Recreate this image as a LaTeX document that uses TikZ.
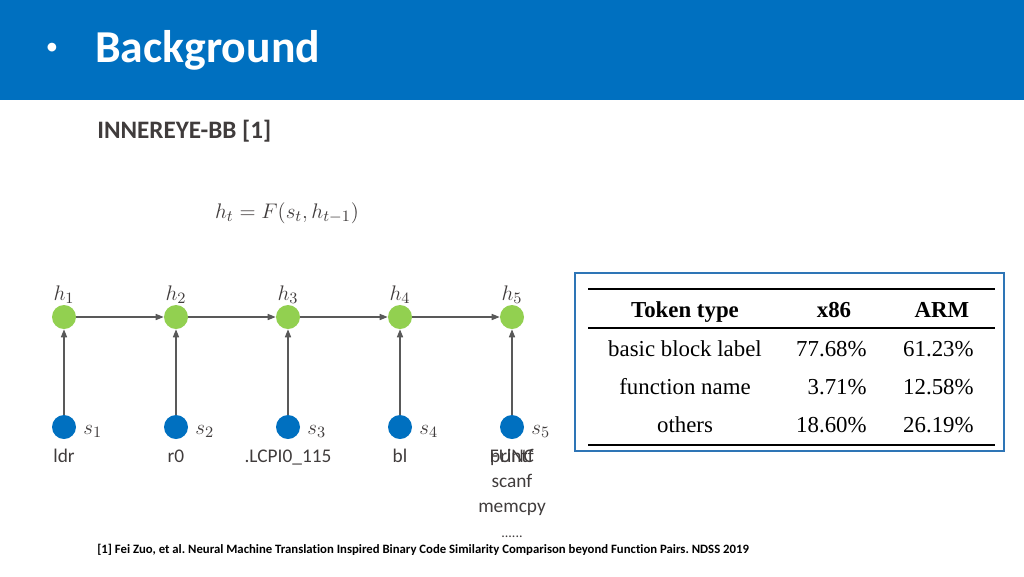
\documentclass[tikz,border=0pt]{standalone}
\usepackage{fontspec}
\setmainfont{Carlito}[Ligatures=NoCommon]
\newfontfamily\tabfont{Liberation Serif}
\frenchspacing
\definecolor{bandblue}{RGB}{0,112,192}
\definecolor{boxblue}{RGB}{46,117,182}
\definecolor{hgreen}{RGB}{146,208,80}
\definecolor{sblue}{RGB}{0,112,192}
\definecolor{darktext}{RGB}{64,60,60}
\definecolor{linegray}{RGB}{89,89,89}
\usetikzlibrary{arrows.meta}
\tikzset{
  hnode/.style={circle, fill=hgreen, minimum size=4.8mm, inner sep=0pt},
  snode/.style={circle, fill=sblue, minimum size=4.8mm, inner sep=0pt},
  mlabel/.style={font=\fontsize{13}{15}\selectfont, text=darktext, anchor=base},
  tok/.style={font=\fontsize{11}{13}\selectfont, text=darktext, anchor=base},
  flow/.style={draw=linegray, line width=0.6pt, -{Triangle[length=4.5pt,width=3.5pt]}},
  cell/.style={font=\tabfont\fontsize{13}{15}\selectfont, anchor=base},
  rule/.style={draw=black, line width=#1},
}

\begin{document}
\begin{tikzpicture}[x=0.2mm, y=-0.2mm]
\useasboundingbox (0,0) rectangle (1024,576);

% --- Header band ---
\fill[bandblue] (0,0) rectangle (1024,100);
\node[text=white, font=\fontsize{14}{16}\selectfont, anchor=base] (bullet) at (52,54) {•};
\node[text=white, font=\bfseries\fontsize{26}{30}\selectfont, anchor=base west, inner sep=0pt] (title) at (95,62) {Background};
\node[text=darktext, font=\bfseries\fontsize{14.3}{17}\selectfont, anchor=base west, inner sep=0pt] (subtitle) at (97,138) {INNEREYE-BB [1]};

% --- Recurrence ---
\node[font=\fontsize{12.5}{15}\selectfont, text=darktext, anchor=base] (recur) at (287,218) {$h_t = F(s_t, h_{t-1})$};

% Hidden states
\node[hnode] (h1) at (64,317) {};
\node[hnode] (h2) at (176,317) {};
\node[hnode] (h3) at (288,317) {};
\node[hnode] (h4) at (400,317) {};
\node[hnode] (h5) at (512,317) {};
\node[mlabel] (lh1) at (64,300) {$h_1$};
\node[mlabel] (lh2) at (176,300) {$h_2$};
\node[mlabel] (lh3) at (288,300) {$h_3$};
\node[mlabel] (lh4) at (400,300) {$h_4$};
\node[mlabel] (lh5) at (512,300) {$h_5$};

% Input tokens
\node[snode] (s1) at (64,427) {};
\node[snode] (s2) at (176,427) {};
\node[snode] (s3) at (288,427) {};
\node[snode] (s4) at (400,427) {};
\node[snode] (s5) at (512,427) {};
\node[mlabel, anchor=base west, inner sep=0pt] (ls1) at (83,434) {$s_1$};
\node[mlabel, anchor=base west, inner sep=0pt] (ls2) at (195,434) {$s_2$};
\node[mlabel, anchor=base west, inner sep=0pt] (ls3) at (307,434) {$s_3$};
\node[mlabel, anchor=base west, inner sep=0pt] (ls4) at (419,434) {$s_4$};
\node[mlabel, anchor=base west, inner sep=0pt] (ls5) at (531,434) {$s_5$};

% Token texts
\node[tok] (t1) at (64,462) {ldr};
\node[tok] (t2) at (176,462) {r0};
\node[tok] (t3) at (288,462) {.LCPI0\_115};
\node[tok] (t4) at (400,462) {bl};
\node[tok] (t5a) at (512,462) {printf};
\node[tok] (t5b) at (512,462) {FUNC};
\node[tok] (t5c) at (512,487) {scanf};
\node[tok] (t5d) at (512,512) {memcpy};
\node[tok, font=\fontsize{8}{10}\selectfont] (t5e) at (512,537) {......};

% Connectors
\draw[flow] (h1) -- (h2);
\draw[flow] (h2) -- (h3);
\draw[flow] (h3) -- (h4);
\draw[flow] (h4) -- (h5);
\draw[flow] (s1) -- (h1);
\draw[flow] (s2) -- (h2);
\draw[flow] (s3) -- (h3);
\draw[flow] (s4) -- (h4);
\draw[flow] (s5) -- (h5);

% --- Token statistics table ---
\draw[boxblue, line width=1pt] (575,273) rectangle (1004,451);
\draw[rule=1.4pt] (588,289) -- (995,289);
\draw[rule=0.9pt] (588,328) -- (995,328);
\draw[rule=1.4pt] (588,445) -- (995,445);
\node[cell, font=\tabfont\bfseries\fontsize{13}{15}\selectfont] (hd1) at (685,317) {Token type};
\node[cell, font=\tabfont\bfseries\fontsize{13}{15}\selectfont] (hd2) at (834,317) {x86};
\node[cell, font=\tabfont\bfseries\fontsize{13}{15}\selectfont] (hd3) at (942,317) {ARM};
\node[cell] (r1) at (685,356) {basic block label};
\node[cell] (r2) at (685,394) {function name};
\node[cell] (r3) at (685,432) {others};
\node[cell, anchor=base east, inner sep=0pt] (x1) at (867,356) {77.68\%};
\node[cell, anchor=base east, inner sep=0pt] (x2) at (867,394) {3.71\%};
\node[cell, anchor=base east, inner sep=0pt] (x3) at (867,432) {18.60\%};
\node[cell, anchor=base east, inner sep=0pt] (a1) at (974,356) {61.23\%};
\node[cell, anchor=base east, inner sep=0pt] (a2) at (974,394) {12.58\%};
\node[cell, anchor=base east, inner sep=0pt] (a3) at (974,432) {26.19\%};

% --- Reference ---
\node[font=\bfseries\fontsize{7.25}{9}\selectfont, text=black, anchor=base west, inner sep=0pt] (ref) at (97,553)
  {[1] Fei Zuo, et al. Neural Machine Translation Inspired Binary Code Similarity Comparison beyond Function Pairs. NDSS 2019};

\end{tikzpicture}
\end{document}
